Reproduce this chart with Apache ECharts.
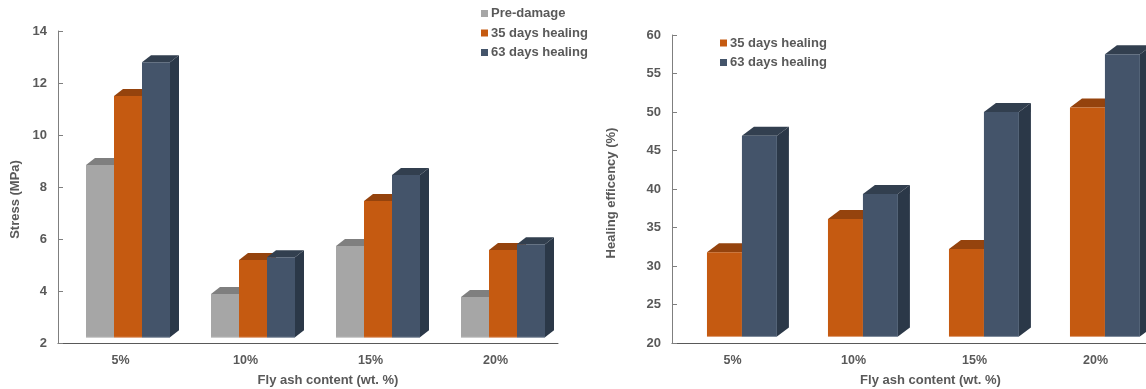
<!DOCTYPE html>
<html>
<head>
<meta charset="utf-8">
<title>Fly ash healing</title>
<style>
html,body{margin:0;padding:0;background:#fff;}
#main{width:1146px;height:389px;}
</style>
<script src="https://cdn.jsdelivr.net/npm/echarts@6/dist/echarts.min.js"></script>
</head>
<body>
<div id="main"></div>
<script>
// data
var categories = ['5%', '10%', '15%', '20%'];
var preDamage = [8.85, 3.88, 5.73, 3.77];
var stress35 = [11.5, 5.19, 7.46, 5.58];
var stress63 = [12.8, 5.3, 8.46, 5.8];
var efficiency35 = [31.8, 36.1, 32.2, 50.6];
var efficiency63 = [46.9, 39.35, 50, 57.5];
var stressTicks = {min: 2, max: 14, interval: 2};
var efficiencyTicks = {min: 20, max: 60, interval: 5};
var stressBase = 2.22;
var efficiencyBase = 20.85;

var fontName = '"Liberation Sans", Arial, sans-serif';
var textColor = '#595959';
var colors = {
	'Pre-damage': {front: '#a6a6a6', top: '#7f7f7f', side: '#7f7f7f', edge: '#c4c4c4'},
	'35 days healing': {front: '#c55a11', top: '#95430d', side: '#95430d', edge: '#dd9a70'},
	'63 days healing': {front: '#44546a', top: '#323f4f', side: '#2b3848', edge: '#7f8b9b'}
};

// one 3d bar, the front face comes from the axes, the depth is a fixed offset
function barSeries(name, values, gridIndex, index, base, look) {
	var c = colors[name];
	return {
		type: 'custom',
		name: name,
		xAxisIndex: gridIndex,
		yAxisIndex: gridIndex,
		itemStyle: {color: c.front},
		silent: true,
		clip: false,
		data: values.map(function (v, i) { return [i, v]; }),
		encode: {x: 0, y: 1},
		renderItem: function (params, api) {
			var center = api.coord([api.value(0), api.value(1)]);
			var band = api.size([1, 0])[0];
			var w = band * look.bar;
			var x = center[0] + band * look.start + index * w;
			var top = center[1];
			var bottom = api.coord([api.value(0), base])[1];
			var dx = look.dx, dy = look.dy;
			return {
				type: 'group',
				children: [
					{type: 'polygon', shape: {points: [[x + w, top], [x + w + dx, top - dy], [x + w + dx, bottom - dy], [x + w, bottom]]}, style: {fill: c.side}},
					{type: 'polygon', shape: {points: [[x, top], [x + dx, top - dy], [x + w + dx, top - dy], [x + w, top]]}, style: {fill: c.top}},
					{type: 'rect', shape: {x: x, y: top, width: w, height: bottom - top}, style: {fill: c.front}},
					{type: 'line', shape: {x1: x, y1: bottom, x2: x + w, y2: bottom}, style: {stroke: c.edge, lineWidth: 1}}
				]
			};
		}
	};
}

function xAxis(gridIndex, nameShift) {
	return {
		type: 'category',
		gridIndex: gridIndex,
		data: categories,
		name: 'Fly ash content (wt. %)',
		nameLocation: 'middle',
		nameGap: 31,
		nameTextStyle: {color: textColor, fontFamily: fontName, fontWeight: 'bold', fontSize: 13, padding: [0, 0, 0, nameShift]},
		axisLine: {lineStyle: {color: '#595959', width: 1}},
		axisTick: {show: false},
		axisLabel: {color: textColor, fontFamily: fontName, fontWeight: 'bold', fontSize: 12.5, margin: 11},
		splitLine: {show: false}
	};
}

function yAxis(gridIndex, ticks, name, gap, nameShift) {
	return {
		type: 'value',
		gridIndex: gridIndex,
		min: ticks.min,
		max: ticks.max,
		interval: ticks.interval,
		name: name,
		nameLocation: 'middle',
		nameGap: gap,
		nameRotate: 90,
		nameTextStyle: {color: textColor, fontFamily: fontName, fontWeight: 'bold', fontSize: 13, padding: [0, nameShift, 0, 0]},
		axisLine: {show: true, lineStyle: {color: '#7f7f7f', width: 1}},
		axisTick: {show: true, inside: true, length: 5, lineStyle: {color: '#7f7f7f'}},
		axisLabel: {color: textColor, fontFamily: fontName, fontWeight: 'bold', fontSize: 13, margin: 11},
		splitLine: {show: false}
	};
}

function legend(names, left, top) {
	return {
		data: names,
		orient: 'vertical',
		left: left,
		top: top,
		padding: 0,
		icon: 'rect',
		itemWidth: 7,
		itemHeight: 7,
		itemGap: 6.5,
		selectedMode: false,
		textStyle: {color: textColor, fontFamily: fontName, fontWeight: 'bold', fontSize: 13, padding: [0, 0, 0, -2]}
	};
}

var leftLook = {bar: 0.224, start: -0.276, dx: 9, dy: 7};
var rightLook = {bar: 0.289, start: -0.211, dx: 12, dy: 9};

var chart = echarts.init(document.getElementById('main'), null, {renderer: 'canvas'});
chart.setOption({
	animation: false,
	backgroundColor: '#fff',
	grid: [
		{left: 58, top: 31, width: 500, height: 312, outerBoundsMode: 'none'},
		{left: 672, top: 35, width: 484, height: 308, outerBoundsMode: 'none'}
	],
	legend: [
		legend(['Pre-damage', '35 days healing', '63 days healing'], 481, 7),
		legend(['35 days healing', '63 days healing'], 720, 36.5)
	],
	xAxis: [xAxis(0, 40), xAxis(1, 33)],
	yAxis: [
		yAxis(0, stressTicks, 'Stress (MPa)', 36, 25),
		yAxis(1, efficiencyTicks, 'Healing efficency (%)', 54, 8)
	],
	series: [
		barSeries('Pre-damage', preDamage, 0, 0, stressBase, leftLook),
		barSeries('35 days healing', stress35, 0, 1, stressBase, leftLook),
		barSeries('63 days healing', stress63, 0, 2, stressBase, leftLook),
		barSeries('35 days healing', efficiency35, 1, 0, efficiencyBase, rightLook),
		barSeries('63 days healing', efficiency63, 1, 1, efficiencyBase, rightLook)
	]
});
</script>
</body>
</html>
